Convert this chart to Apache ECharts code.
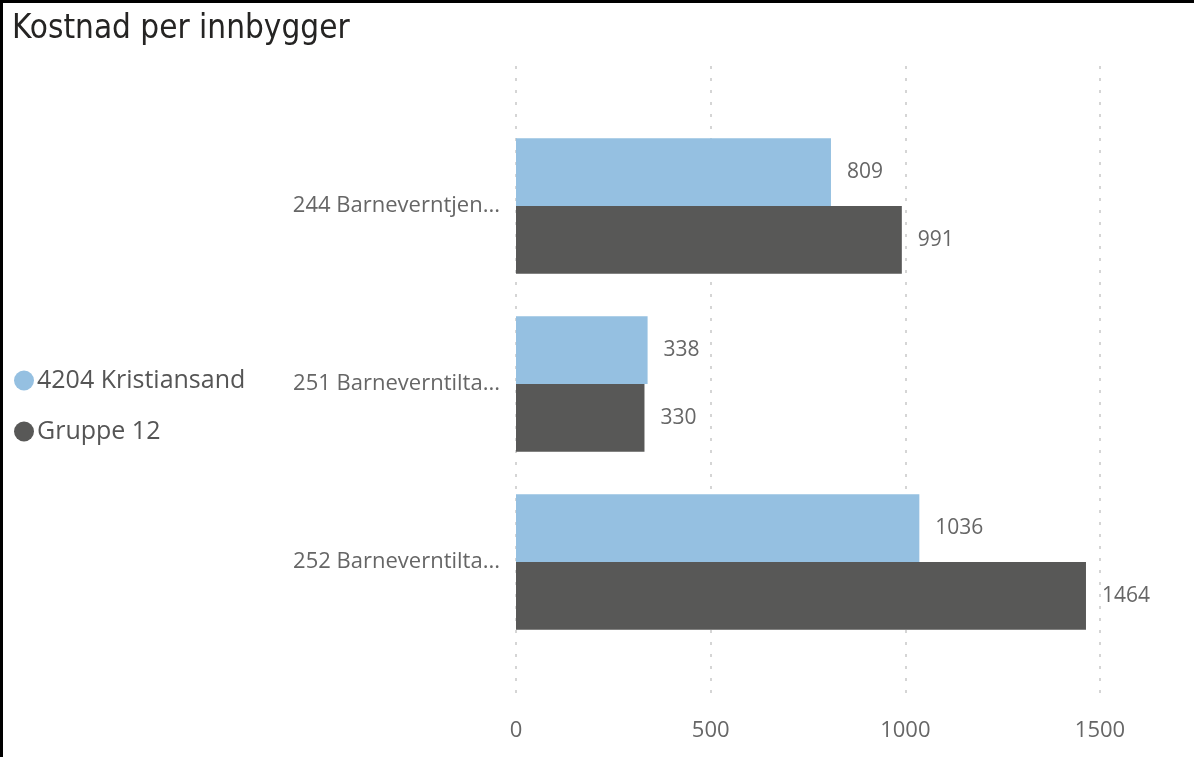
<!DOCTYPE html>
<html>
<head>
<meta charset="utf-8">
<script src="https://cdn.jsdelivr.net/npm/echarts@6/dist/echarts.min.js"></script>
<style>
  html, body { margin: 0; padding: 0; background: #fff; }
  #chart {
    width: 1194px;
    height: 757px;
    box-sizing: border-box;
    border-top: 3px solid #000;
    border-left: 3px solid #000;
  }
</style>
</head>
<body>
<div id="chart"></div>
<script>
// data
const categories = ['244 Barneverntjen...', '251 Barneverntilta...', '252 Barneverntilta...']
const seriesNames = ['4204 Kristiansand', 'Gruppe 12']
const kristiansand = [809, 338, 1036]
const gruppe12 = [991, 330, 1464]
const xTicks = [0, 500, 1000, 1500]

const colors = ['#95C0E1', '#585857']
const textFont = '"Open Sans", "Noto Sans", sans-serif'

const chart = echarts.init(document.getElementById('chart'))

const valueLabel = {
  show: true,
  position: 'right',
  distance: 16,
  color: '#666',
  fontSize: 21,
  fontFamily: textFont
}

const option = {
  animation: false,
  title: {
    text: 'Kostnad per innbygger',
    left: 4,
    top: 5,
    textStyle: {
      fontFamily: '"DejaVu Sans Condensed", "DejaVu Sans", sans-serif',
      fontWeight: 'normal',
      fontSize: 33,
      color: '#252423'
    }
  },
  legend: {
    orient: 'vertical',
    left: 11,
    top: 365,
    padding: 0,
    itemGap: 26,
    itemWidth: 20,
    itemHeight: 20,
    icon: 'circle',
    data: seriesNames,
    textStyle: {
      fontFamily: textFont,
      fontSize: 25,
      color: '#555',
      padding: [0, 0, 0, -2]
    }
  },
  grid: [
    { left: 513, right: 94, top: 114, bottom: 106 },
    { left: 513, right: 94, top: 63, bottom: 64 }
  ],
  xAxis: [
    {
      gridIndex: 0,
      type: 'value',
      min: xTicks[0],
      max: xTicks[xTicks.length - 1],
      interval: 500,
      axisLine: { show: false },
      axisTick: { show: false },
      axisLabel: { show: false },
      splitLine: { show: false }
    },
    {
      gridIndex: 1,
      type: 'value',
      min: xTicks[0],
      max: xTicks[xTicks.length - 1],
      interval: 500,
      axisLine: { show: false },
      axisTick: { show: false },
      axisLabel: {
        margin: 27,
        color: '#666',
        fontSize: 22,
        fontFamily: textFont,
        formatter: v => String(v)
      },
      splitLine: {
        lineStyle: { color: '#c8c8c8', type: [3, 9], width: 1.5 }
      }
    }
  ],
  yAxis: [
    {
      gridIndex: 0,
      type: 'category',
      inverse: true,
      data: categories,
      axisLine: { show: false },
      axisTick: { show: false },
      axisLabel: {
        margin: 16,
        color: '#666',
        fontSize: 22,
        fontFamily: textFont
      }
    },
    {
      gridIndex: 1,
      type: 'category',
      data: [],
      show: false
    }
  ],
  series: [
    {
      name: seriesNames[0],
      type: 'bar',
      xAxisIndex: 0,
      yAxisIndex: 0,
      data: kristiansand,
      itemStyle: { color: colors[0] },
      barGap: '0%',
      barCategoryGap: '24%',
      label: valueLabel,
      z: 3
    },
    {
      name: seriesNames[1],
      type: 'bar',
      xAxisIndex: 0,
      yAxisIndex: 0,
      data: gruppe12,
      itemStyle: { color: colors[1] },
      barGap: '0%',
      barCategoryGap: '24%',
      label: valueLabel,
      z: 3
    }
  ]
}

chart.setOption(option)
</script>
</body>
</html>
